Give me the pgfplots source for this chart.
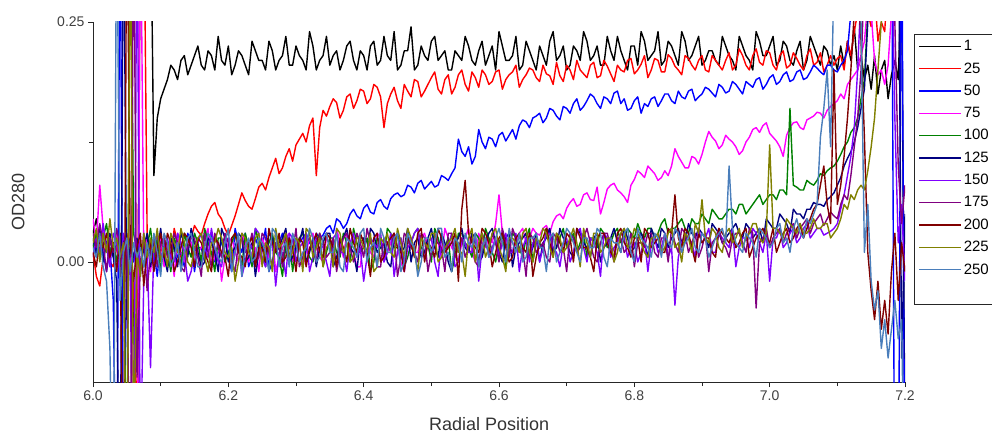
\documentclass[border=0pt]{standalone}
\usepackage{fontspec}
\setmainfont{Liberation Sans}
\usepackage{pgfplots}
\usepackage{pgfplotstable}
\pgfplotsset{compat=1.18}

\definecolor{c1}{HTML}{000000}
\definecolor{c25}{HTML}{FF0000}
\definecolor{c50}{HTML}{0000FF}
\definecolor{c75}{HTML}{FF00FF}
\definecolor{c100}{HTML}{008000}
\definecolor{c125}{HTML}{000080}
\definecolor{c150}{HTML}{8000FF}
\definecolor{c175}{HTML}{800080}
\definecolor{c200}{HTML}{800000}
\definecolor{c225}{HTML}{808000}
\definecolor{c250}{HTML}{4A7EBB}

% OD280 in units of 0.001 (milli-OD); columns = scan number
\pgfplotstableread{
x     a    b    c    d    e    f    g    h    i    j    k
6.000 30   10   20   45   15   25   5    30   10   20   15
6.005 45   -15  5    20   30   10   25   15   -5   35   5
6.010 20   -25  30   80   5    35   10   40   25   0    30
6.015 35   5    10   35   25   0    40   20   15   30   -5
6.020 15   20   -10  10   40   20   15   -10  30   10   -20
6.025 25   0    15   25   10   30   -5   25   5    45   -90
6.030 5    -5   -40  15   20   5    30   10   20   15   -300
6.035 20   15   -300 30   0    -20  20   35   -10  25   400
6.040 10   25   400  5    30   -300 -15  15   30   5    -40
6.045 25   10   -250 20   15   400  30   -5   -300 20   10
6.050 0    30   10   -10  -250 -60  10   20   400  -300 25
6.055 15   5    25   15   400  20   -10  -300 20   400  -10
6.060 -40  -20  0    -150 30   5    -300 400  -20  -200 20
6.065 -300 -200 20   -300 10   25   400  -120 15   10   5
6.070 400  400  -15  400  20   -10  -220 0    30   -15  15
6.075 400  400  30   10   -5   15   -20  25   -25  30   -5
6.080 400  30   5    25   15   30   10   -30  10   5    20
6.085 400  15   20   -10  35   -5   -110 10   20   25   0
6.090 90   -5   10   20   5    20   15   25   -10  10   30
6.095 150  20   -15  5    25   10   30   -5   15   35   10
6.100 170  10   25   30   -10  35   5    20   30   0    -15
6.105 180  25   10   -5   20   5    15   25   5    15   30
6.110 190  15   -5   20   10   -10  25   5    30   -5   20
6.115 205  0    25   15   -10  25   5    10   20   30   -5
6.120 200  35   20   -15  25   15   0    30   -10  20   5
6.125 190  20   5    30   15   -5   30   20   0    10   20
6.130 210  5    10   10   -5   30   20   -5   15   35   -10
6.135 215  10   -5   0    30   20   10   -10  30   20   10
6.140 195  20   30   25   15   5    -20  15   25   0    25
6.145 205  25   20   20   5    35   -10  25   15   -5   30
6.150 215  38   -10  0    30   20   10   25   -5   15   10
6.155 225  32   15   10   20   10   20   5    25   25   -5
6.160 205  28   15   15   0    -5   30   -15  20   30   -5
6.165 200  40   0    25   35   0    15   30   10   5    15
6.170 220  50   25   35   20   25   5    10   0    -10  30
6.175 215  58   30   -5   10   20   35   -5   -10  20   25
6.180 200  62   0    5    -10  10   15   30   25   20   15
6.185 235  50   10   20   25   -10  0    15   20   35   5
6.190 210  45   20   -20  25   35   -5   5    10   25   0
6.195 205  35   25   5    0    25   20   30   5    10   20
6.200 225  28   5    20   10   0    25   20   -15  5    35
6.205 195  38   -10  25   20   10   5    0    25   15   -10
6.210 205  48   35   10   30   15   10   -10  30   -20  10
6.215 220  60   20   0    15   30   25   20   10   0    30
6.220 215  72   10   30   -5   25   -15  25   5    30   -15
6.225 205  64   30   20   30   0    0    10   -5   25   15
6.230 195  58   -5   0    15   5    20   15   20   10   25
6.235 230  55   5    10   -5   20   15   30   25   5    0
6.240 220  66   25   15   35   -15  35   0    -5   25   5
6.245 210  78   15   -10  20   10   30   5    15   30   25
6.250 210  82   15   25   0    20   5    30   15   -5   20
6.255 200  75   35   15   10   -5   -5   25   0    20   10
6.260 230  88   -10  5    20   30   15   10   35   15   -10
6.265 220  98   0    30   30   25   20   -5   20   -10  35
6.270 200  108  20   -10  10   10   -25  20   10   35   30
6.275 210  92   20   5    5    15   10   15   30   15   -5
6.280 215  98   30   20   -15  25   10   -5   0    20   15
6.285 235  110  10   25   20   35   -15  30   5    30   20
6.290 205  118  5    30   25   0    30   15   25   5    -5
6.295 205  105  25   0    -10  5    25   10   15   10   30
6.300 225  122  15   10   15   15   0    35   -10  25   20
6.305 215  128  20   20   25   20   15   -5   25   20   0
6.310 210  134  25   -5   30   35   20   5    20   -10  10
6.315 200  125  30   10   15   0    30   20   -5   35   15
6.320 240  142  20   25   5    10   -10  25   15   30   35
6.325 225  150  15   30   0    25   5    15   20   5    25
6.330 200  90   30   15   20   -5   25   0    30   15   0
6.335 210  140  25   5    30   15   20   30   10   25   5
6.340 215  158  28   0    -5   20   15   20   5    -5   25
6.345 235  152  35   25   10   30   0    5    30   15   30
6.350 205  162  38   20   25   30   -15  10   25   20   10
6.355 215  170  30   0    25   -5   25   25   15   -5   10
6.360 220  166  45   35   10   5    30   -10  -5   35   30
6.365 200  150  42   20   5    20   10   10   25   30   -5
6.370 210  158  35   5    30   25   10   25   15   10   -10
6.375 225  172  40   30   20   35   -10  30   0    20   25
6.380 230  175  50   15   0    15   20   15   35   0    20
6.385 210  160  55   10   35   10   30   0    20   5    15
6.390 200  168  48   -5   20   -10  5    30   10   25   5
6.395 220  180  45   -5   10   25   15   20   30   25   30
6.400 215  178  56   25   15   25   -20  5    20   15   35
6.405 200  165  60   20   25   5    5    35   10   10   0
6.410 225  170  52   10   -10  35   25   20   -15  30   15
6.415 230  185  50   5    0    30   20   15   25   -10  20
6.420 205  182  62   30   25   10   15   -5   30   -5   -5
6.425 210  172  65   25   20   15   30   -5   0    25   35
6.430 235  140  58   0    5    20   0    25   5    20   25
6.435 215  165  55   10   35   0    10   20   20   30   10
6.440 210  175  66   20   30   -5   30   10   25   10   10
6.445 240  182  70   30   15   25   -15  30   30   5    25
6.450 200  168  72   15   15   30   10   -15  15   35   30
6.455 205  160  68   0    25   10   25   5    10   20   -10
6.460 220  185  70   -10  -5   15   -10  30   -10  5    0
6.465 220  178  80   20   5    35   15   25   25   35   30
6.470 245  172  78   25   20   0    20   15   20   25   20
6.475 200  190  72   10   30   20   30   10   5    10   15
6.480 205  188  82   10   35   25   35   0    30   -10  -15
6.485 225  172  85   25   15   5    10   30   35   25   0
6.490 215  178  76   30   10   10   5    25   0    20   25
6.495 210  185  80   15   20   25   20   -10  20   15   25
6.500 230  192  84   5    0    35   25   10   15   30   10
6.505 235  198  78   30   35   15   0    20   5    30   20
6.510 210  180  80   20   25   5    -15  20   35   0    35
6.515 215  175  90   5    10   30   25   15   25   5    35
6.520 220  190  88   35   15   20   15   -10  10   15   5
6.525 200  195  85   25   25   0    15   30   15   20   10
6.530 200  175  92   15   -10  -10  30   30   20   25   -10
6.535 220  182  98   10   5    20   -5   5    30   35   25
6.540 215  195  128  0    30   25   0    15   -20  10   20
6.545 210  200  115  20   30   35   25   25   55   10   0
6.550 235  185  110  25   20   15   20   5    85   -15  30
6.555 225  178  120  35   15   10   10   15   30   25   20
6.560 210  198  102  10   5    30   10   25   20   35   15
6.565 205  192  110  0    30   25   30   0    15   0    30
6.570 220  182  138  30   25   0    -20  -5   10   20   -5
6.575 230  200  125  20   10   5    15   30   35   30   15
6.580 205  195  118  15   35   20   25   20   30   5    25
6.585 215  185  130  25   25   30   5    10   20   15   5
6.590 225  188  128  20   10   35   15   30   -5   30   10
6.595 200  198  120  40   0    20   25   20   10   35   25
6.600 240  200  132  70   20   10   5    0    25   15   35
6.605 225  180  135  30   30   0    20   35   30   5    20
6.610 210  190  126  25   -5   25   30   20   15   -10  0
6.615 210  195  132  15   15   30   10   5    0    25   35
6.620 215  198  138  10   30   -5   10   35   5    25   20
6.625 235  205  128  20   25   15   30   25   25   20   10
6.630 200  182  142  30   15   20   -10  10   30   10   30
6.635 205  190  148  35   5    25   15   15   15   30   0
6.640 230  195  146  20   25   30   25   -15  10   35   5
6.645 220  202  140  25   35   5    0    30   30   10   25
6.650 210  200  150  35   0    15   20   25   -15  0    25
6.655 200  192  152  30   20   30   25   10   5    25   30
6.660 225  188  155  28   20   0    0    15   20   20   15
6.665 215  205  145  35   10   20   15   20   25   35   15
6.670 205  196  150  38   35   25   30   5    35   30   -10
6.675 230  194  160  30   30   35   30   0    20   15   25
6.680 240  185  158  42   10   10   15   30   5    5    30
6.685 210  208  152  48   15   15   10   25   30   30   0
6.690 215  194  148  50   25   35   -5   10   20   25   10
6.695 225  188  162  45   35   25   20   15   10   10   20
6.700 200  205  160  56   15   20   25   -10  30   15   35
6.705 205  200  155  62   20   10   0    30   25   25   30
6.710 225  190  165  66   30   5    10   25   0    35   20
6.715 220  210  170  58   10   35   30   10   35   20   10
6.720 210  200  158  60   20   30   35   15   25   -5   0
6.725 240  196  162  70   30   20   15   25   15   35   25
6.730 230  192  168  72   5    15   0    35   15   20   25
6.735 210  205  175  65   25   5    25   20   5    5    15
6.740 215  208  172  64   25   25   20   5    -10  30   15
6.745 225  192  165  78   15   30   10   0    25   30   35
6.750 205  194  160  50   35   0    -15  20   30   10   30
6.755 205  210  172  62   30   15   30   30   30   15   5
6.760 235  204  170  76   15   20   25   30   20   25   -5
6.765 220  196  165  80   20   25   5    15   10   25   25
6.770 210  188  176  82   30   35   15   0    5    0    20
6.775 235  205  178  75   35   20   20   25   30   10   20
6.780 220  200  165  72   20   10   30   25   35   30   10
6.785 210  198  170  68   25   35   25   10   20   35   30
6.790 200  210  158  62   35   25   5    15   15   15   35
6.795 225  212  160  80   30   10   15   30   5    20   10
6.800 225  196  168  86   25   15   20   -5   25   35   0
6.805 205  200  172  95   40   25   0    20   25   30   35
6.810 240  206  155  92   30   30   10   20   0    20   25
6.815 230  215  165  88   25   20   25   15   35   10   20
6.820 210  192  162  100  35   5    -10  30   30   5    15
6.825 215  200  170  96   35   35   20   30   15   25   5
6.830 220  212  172  92   25   25   25   10   20   25   30
6.835 240  210  162  85   30   15   10   5    25   30   25
6.840 205  198  168  88   40   35   15   25   10   10   5
6.845 210  198  175  95   45   30   30   25   10   15   30
6.850 230  216  175  90   30   15   5    0    35   30   20
6.855 225  212  168  100  35   25   15   35   30   35   15
6.860 215  204  165  118  35   30   -45  20   70   15   35
6.865 205  200  178  110  40   35   5    10   25   20   30
6.870 240  195  172  104  45   20   20   35   15   0    10
6.875 230  215  170  98   35   20   30   30   35   30   20
6.880 210  212  178  98   30   40   25   10   30   25   25
6.885 215  205  180  110  45   30   20   20   15   10   35
6.890 225  200  168  108  40   25   5    30   0    40   15
6.895 235  210  172  102  40   35   35   5    30   30   10
6.900 205  215  175  112  50   30   20   15   20   65   30
6.905 210  200  182  125  45   25   25   30   25   25   25
6.910 220  198  180  136  40   15   35   -10  25   20   5
6.915 220  215  176  130  55   40   10   20   10   35   15
6.920 210  210  172  126  50   35   10   25   5    30   25
6.925 205  205  185  118  45   30   30   35   35   15   30
6.930 235  200  182  122  45   20   25   20   30   10   35
6.935 225  210  176  132  50   25   20   15   25   30   20
6.940 215  218  178  128  55   30   15   5    20   35   100
6.945 210  200  188  125  55   35   35   25   30   20   35
6.950 200  205  185  120  50   40   -5   30   15   25   20
6.955 235  222  180  112  60   30   15   30   20   35   15
6.960 225  215  175  116  60   25   25   20   30   15   10
6.965 215  205  188  125  50   40   25   10   35   25   30
6.970 210  200  185  130  55   35   15   35   5    30   25
6.975 200  215  182  138  60   25   35   30   15   40   20
6.980 240  222  190  140  65   30   30   -48  25   40   5
6.985 230  208  192  135  70   35   20   20   30   25   35
6.990 215  205  180  142  60   20   10   25   35   20   30
6.995 215  220  185  145  65   45   30   35   25   30   25
7.000 225  218  192  134  70   40   -20  15   20   122  15
7.005 235  205  195  130  70   35   25   25   35   35   20
7.010 205  200  185  126  65   35   25   30   10   35   35
7.015 210  215  188  120  75   50   35   35   20   30   40
7.020 230  220  195  110  75   45   15   20   30   25   20
7.025 225  202  198  132  70   40   20   30   35   45   25
7.030 210  205  188  140  160  30   30   35   20   40   10
7.035 205  218  190  145  80   55   35   40   25   35   35
7.040 220  212  198  146  78   50   20   25   35   30   45
7.045 230  205  200  140  75   50   25   35   40   40   30
7.050 200  200  190  138  75   45   35   40   25   30   25
7.055 210  215  192  148  85   55   40   45   35   30   45
7.060 235  222  198  150  82   55   25   30   45   35   40
7.065 225  205  205  152  80   62   30   40   55   45   50
7.070 215  208  202  156  85   60   35   45   60   35   60
7.075 205  218  198  155  92   60   35   50   80   35   130
7.080 225  198  195  150  90   58   28   38   100  40   160
7.085 220  205  205  158  95   65   30   45   60   40   200
7.090 205  215  205  162  98   68   32   52   40   25   120
7.095 215  205  200  165  100  72   35   48   200  30   300
7.100 200  212  198  168  105  80   40   45   60   35   400
7.105 225  215  205  175  112  88   55   60   80   45   400
7.110 205  200  210  170  120  100  70   70   110  60   400
7.115 230  230  220  185  125  108  90   65   150  55   400
7.120 210  215  260  190  135  115  110  90   200  70   400
7.125 245  240  300  195  140  125  140  120  260  65   400
7.130 200  260  400  200  150  140  200  150  300  75   400
7.135 215  300  400  215  170  160  280  200  230  80   250
7.140 190  280  400  230  190  180  400  300  130  75   10
7.145 205  260  400  270  260  250  400  400  10   95   60
7.150 180  245  400  260  300  400  400  400  -30  120  -20
7.155 215  280  400  210  400  400  400  400  -60  150  -50
7.160 175  230  400  195  400  400  400  400  -20  200  -30
7.165 200  250  400  200  400  400  400  400  -70  250  -90
7.170 210  240  400  185  400  400  400  400  -40  400  -60
7.175 170  300  400  205  400  400  400  400  -75  400  -100
7.180 195  400  400  260  400  400  350  400  -10  400  -70
7.185 210  400  -300 400  400  400  150  250  30   400  -40
7.190 190  400  -300 400  400  400  20   100  -40  400  -80
7.195 300  400  400  400  400  -100 60   40   20   260  -60
7.200 -200 400  -300 400  400  50   -20  80   -10  400  -300
}\scans

\begin{document}
\begin{tikzpicture}
\begin{axis}[
  name=ax,
  width=812pt, height=360pt, scale only axis,
  xmin=6.0, xmax=7.2, ymin=-125, ymax=250,
  axis lines=left, axis line style={-, black!85, line width=0.9pt},
  clip=true,
  xtick={6.0,6.2,6.4,6.6,6.8,7.0,7.2}, minor x tick num=1,
  ytick={0,250}, yticklabels={0.00,0.25}, minor ytick={125},
  tick align=outside,
  major tick length=5pt, minor tick length=4pt,
  tick style={black!85, line width=0.9pt},
  xticklabel={\pgfmathprintnumber[fixed,fixed zerofill,precision=1,assume math mode=true]{\tick}},
  ticklabel style={font=\fontsize{14}{14}\selectfont, text=black!75},
  xlabel={Radial Position}, ylabel={OD280},
  label style={font=\fontsize{18}{20}\selectfont, text=black!80},
  xlabel style={at={(axis description cs:0.488,-0.118)}, anchor=center},
  ylabel style={at={(axis description cs:-0.092,0.5)}, anchor=center},
  no markers,
  every axis plot/.append style={line width=1.4pt, line join=round},
  legend style={at={(1.011,0.967)}, anchor=north west, draw=black!85,
    line width=0.9pt, font=\fontsize{15}{17}\selectfont,
    row sep=6.4pt, inner xsep=4pt, inner ysep=4pt, cells={anchor=west}},
  legend image code/.code={\draw[#1, line width=1.4pt] (0pt,0pt) -- (42pt,0pt);},
]
\addplot[c1]   table[x=x, y=a] {\scans}; \addlegendentry{1}
\addplot[c25]  table[x=x, y=b] {\scans}; \addlegendentry{25}
\addplot[c50]  table[x=x, y=c] {\scans}; \addlegendentry{50}
\addplot[c75]  table[x=x, y=d] {\scans}; \addlegendentry{75}
\addplot[c100] table[x=x, y=e] {\scans}; \addlegendentry{100}
\addplot[c125] table[x=x, y=f] {\scans}; \addlegendentry{125}
\addplot[c150] table[x=x, y=g] {\scans}; \addlegendentry{150}
\addplot[c175] table[x=x, y=h] {\scans}; \addlegendentry{175}
\addplot[c200] table[x=x, y=i] {\scans}; \addlegendentry{200}
\addplot[c225] table[x=x, y=j] {\scans}; \addlegendentry{225}
\addplot[c250] table[x=x, y=k] {\scans}; \addlegendentry{250}
\addlegendimage{empty legend}\addlegendentry{\phantom{0}}
\end{axis}
\pgfresetboundingbox
\path[use as bounding box] ([xshift=-93pt,yshift=-53pt]ax.south west) rectangle ([xshift=87pt,yshift=22pt]ax.north east);
\end{tikzpicture}
\end{document}
